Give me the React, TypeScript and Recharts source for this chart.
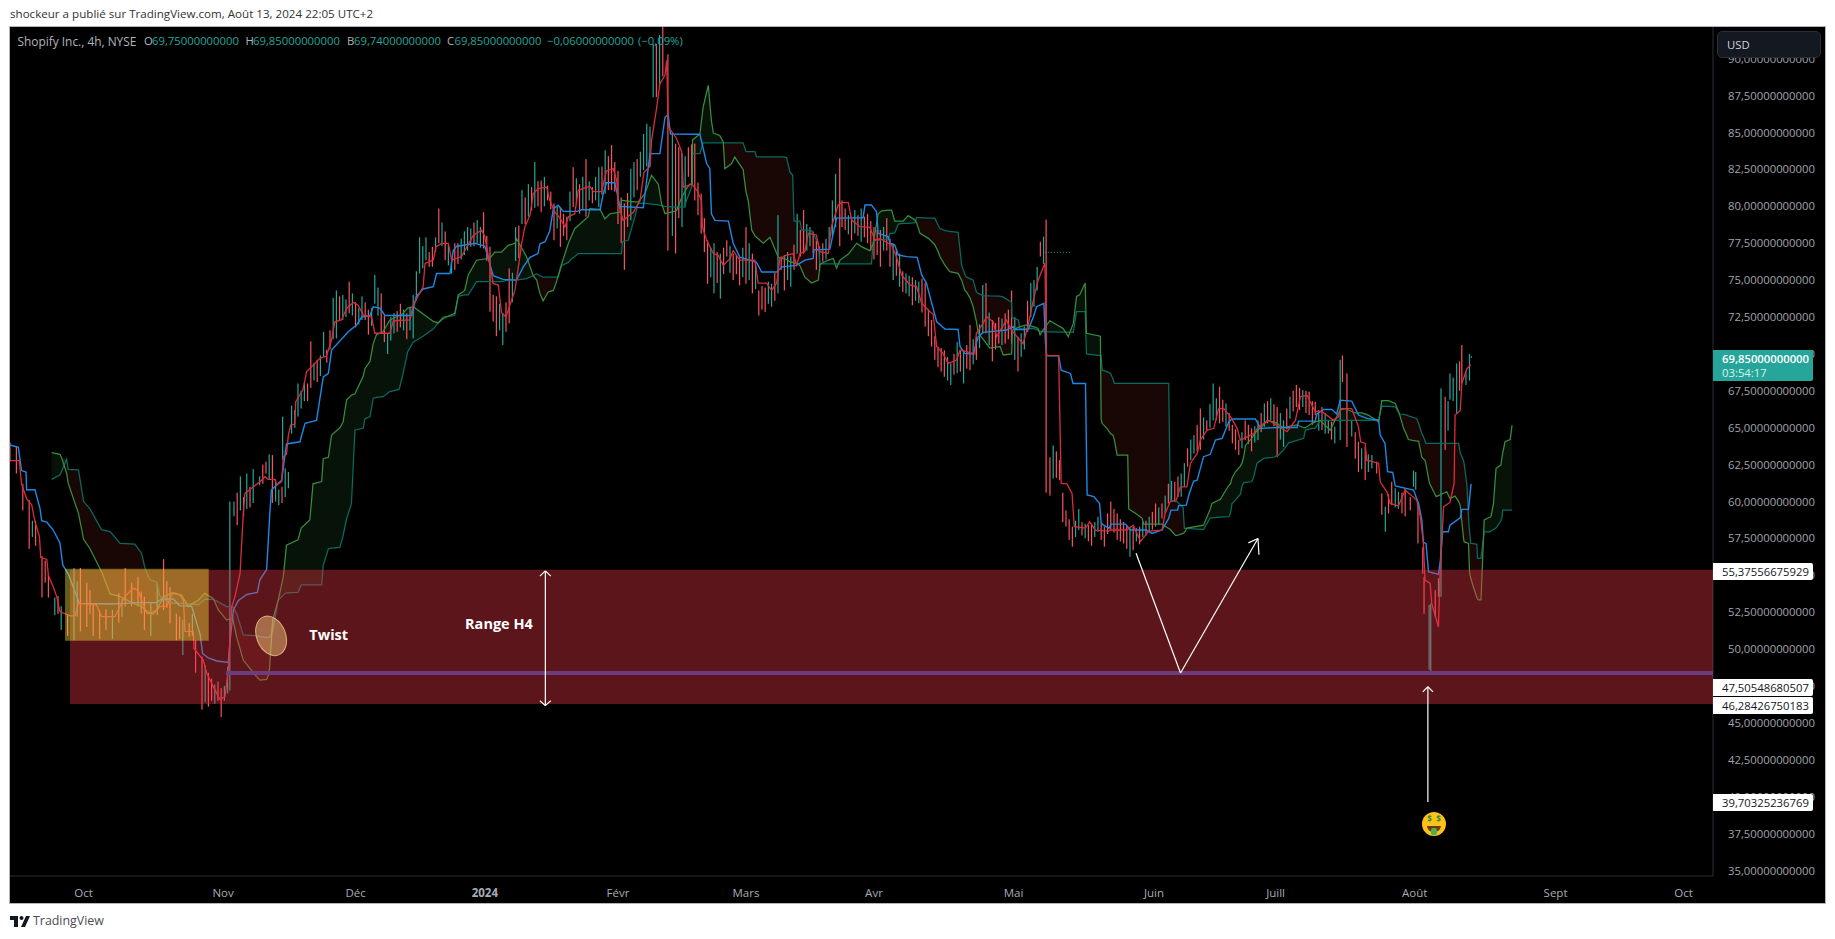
import React from "react";
import { ComposedChart, Bar, Line, Area, XAxis, YAxis, ReferenceArea, ReferenceLine, ReferenceDot } from "recharts";

// x unit: 4h bar number on the chart's time scale
const timeTicks = [23, 66.6, 108, 148.4, 190, 230, 270, 313.6, 357.5, 395.5, 439, 483, 523];
const timeLabels = ["Oct", "Nov", "Déc", "2024", "Févr", "Mars", "Avr", "Mai", "Juin", "Juill", "Août", "Sept", "Oct"];
const priceTicks = [35, 37.5, 40, 42.5, 45, 47.5, 50, 52.5, 55, 57.5, 60, 62.5, 65, 67.5, 70, 72.5, 75, 77.5, 80, 82.5, 85, 87.5, 90];

// [bar, high, low, direction]
const candlesAutumn = [
[0,64,62.7,"d"],[2,63.7,61.9,"d"],[4,61.2,59.4,"d"],[6,60.1,56.8,"d"],[7,58.7,57.6,"u"],[8,58.7,57,"d"],[10,56.3,53.5,"d"],[11,56,54.5,"d"],[12,55.1,53.5,"d"],[14,53.5,52.3,"u"],[15,53.6,52.4,"d"],[16,52.9,51.3,"u"],[18,52.3,50.9,"d"],[20,55.5,50.6,"u"],[21,54.6,52.2,"u"],[22,55.5,51.2,"d"],[24,54.5,51.5,"d"],[25,54,52.4,"d"],[26,53.1,50.9,"d"],[28,52.65,50.7,"d"],[30,52.7,51.3,"d"],[32,52.65,50.7,"u"],[34,53.8,51.8,"d"],[35,53.4,52.2,"u"],[36,55.5,52.9,"d"],[38,54.5,52.9,"d"],[40,54.9,52.9,"d"],[41,53.9,52.4,"d"],[42,53.55,51.3,"d"],[44,53.1,50.9,"u"],[46,54.45,52.3,"u"],[48,56.1,52.65,"d"],[49,54.6,52.8,"d"],[50,54.2,51.75,"d"],[52,52.4,50.6,"d"],[53,52.2,50.7,"d"],[54,52,49.6,"u"],[56,51.75,50.85,"d"],[57,52.4,50.9,"u"],[58,50.6,48.4,"d"],[60,49.5,45.9,"d"],[61,48.9,46.4,"u"],[62,48.4,46.1,"d"],[63,48,46.5,"d"],[64,47.6,46.3,"u"],[65,47.8,46.5,"d"],[66,47.35,45.4,"d"],[67,47.5,46.5,"u"],[68,48.8,47,"u"],[68.7,60,47.2,"u"],[70,60,59,"u"],[71,60.6,58.4,"d"],[72,61.7,59.4,"u"],[73,60.3,59,"d"],[74,61.9,59.5,"u"],[75,61,59.6,"d"],[76,62.2,59.9,"u"],[78,61.7,61.1,"u"],[79,62.5,61.2,"d"],[80,62.7,61.9,"d"],[81,63.2,61.5,"u"],[82,63.15,59.9,"d"],[83,61.5,60,"u"],[84,60.8,59.75,"u"],[85,61,59.9,"d"],[85.2,65.75,62.8,"u"],[86,62.25,60.3,"u"],[87,62,60.9,"u"],[88,66.5,64.6,"u"],[89,66.2,65,"u"],[90,68,65.75,"u"],[91,67.5,66.3,"u"],[92,68.1,66.8,"u"],[93,68,66.8,"d"],[94,70.85,67.7,"d"],[95,69.4,68.2,"u"],[96,69.6,68.1,"d"],[97,69.9,68.5,"u"],[98,71.5,69.8,"u"],[99,70.3,69.4,"d"],[100,71.6,70.3,"d"],[101,73.8,71,"u"],[102,74.3,71.05,"u"],[103,73.9,72.3,"d"],[104,74,72.3,"u"],[105,73.7,72.5,"u"],[106,74.9,72.75,"d"],[107,74.1,72.6,"u"],[108,73.5,71.8,"d"],[109,73.1,72,"u"],[110,73.9,72.3,"u"],[111,73.5,72.3,"d"],[112,73,71.3,"d"],[113,73.1,71.9,"u"]
];
const candlesWinter = [
[114,75.35,73.4,"u"],[115,74.5,72.6,"u"],[116,74.1,71.4,"d"],[117,72.6,70.8,"d"],[118,71.4,70,"u"],[119,72.5,70.9,"u"],[120,72.75,71.4,"u"],[121,72.9,71.5,"d"],[122,73.4,71.8,"d"],[123,73,71.6,"u"],[124,72.75,71,"d"],[125,73.2,71.6,"u"],[126,74,71.05,"u"],[127,75.6,73.6,"u"],[128,77.9,75.45,"u"],[129,77.3,75.8,"u"],[130,77.9,76.35,"u"],[131,76.9,75.9,"d"],[132,77.26,75.9,"d"],[133,77.9,76.9,"u"],[134,79.85,77.5,"d"],[135,78.9,77.3,"u"],[136,78.3,76.35,"d"],[137,77.5,76,"u"],[138,76.35,75.45,"u"],[139,77.5,75.7,"d"],[140,77.5,76.1,"d"],[141,77.8,76.4,"u"],[142,78.3,76.7,"u"],[143,78.6,77,"u"],[144,78.5,77.26,"u"],[145,78.9,77.3,"d"],[146,79.07,77.5,"u"],[147,78.6,77.2,"u"],[148,79.6,77.15,"d"],[149,78,76.3,"d"],[150,77.26,72.86,"d"],[151,74,72.2,"d"],[152,73.9,71.2,"d"],[153,73.4,71.6,"u"],[154,72.75,70.6,"u"],[155,73.5,71.5,"d"],[156,75.8,72.07,"d"],[157,75.5,73.5,"u"],[158,78.6,76.3,"u"],[159,78.7,76.5,"d"],[160,81.1,78.8,"u"],[161,80.6,78.8,"d"],[162,81.5,79.3,"u"],[163,81.3,79.7,"d"],[164,83,79.9,"u"],[165,81.7,80,"d"],[166,81.75,79.6,"d"],[167,82,80,"u"],[168,81.4,80.4,"d"],[169,81,79.8,"d"],[170,80.2,77.7,"d"],[171,80,78.5,"u"],[172,79.95,77.25,"d"],[173,79.5,78,"d"],[174,79.3,77.7,"d"],[175,81,79,"u"],[176,82.65,79.95,"d"],[177,81.9,80.2,"u"],[178,81.5,79.5,"d"],[179,82,79.8,"u"],[180,83.2,79.3,"d"],[181,81.7,80.4,"u"],[182,81.3,80.2,"d"],[183,82,80.4,"u"],[184,82.65,79.95,"u"],[185,82.7,80.8,"d"],[186,83.8,80.85,"u"],[187,83.4,81.1,"d"],[188,84.15,81.1,"d"],[189,83,81,"d"],[190,82.4,78.8,"d"],[191,80.6,77.5,"d"],[192,80.2,75.7,"d"],[193,80.9,78.6,"d"],[194,82.55,79.05,"u"],[195,83,80.6,"u"],[196,83.2,81.1,"d"],[197,83.7,82,"u"],[198,84.9,82.45,"u"],[199,85.6,82.7,"u"],[200,85.4,82.7,"u"],[201,91,87.4,"u"],[202,91,87.4,"d"],[203,91.6,88.2,"u"],[204,92.15,88.8,"d"],[205.6,90.3,77,"d"],[207,85,78,"u"],[208,84.25,76.8,"d"],[209,84,79.2,"d"],[210,83.6,78.6,"u"],[211,83.4,80,"u"],[212,84,82,"d"],[213,84.2,81.4,"d"],[214,84.25,80.4,"d"]
];
const candlesSpring = [
[215,81.6,79.4,"d"],[216,80.86,78.15,"d"],[217,79.2,76.9,"d"],[218,77.7,74.75,"d"],[219,77.2,75.2,"u"],[220,77.5,74.1,"u"],[221,76.9,74.8,"d"],[222,76.8,73.75,"u"],[223,77.2,75.4,"d"],[224,77.7,76.6,"d"],[225,77.3,75.5,"u"],[226,76.8,75,"d"],[227,76.7,75.4,"d"],[228,76.55,74.65,"d"],[229,77.2,75.2,"u"],[230,78.6,74.75,"d"],[231,77.5,75,"u"],[232,76.8,74.1,"d"],[233,76,74.4,"u"],[234,74.3,72.6,"d"],[235,74.6,73,"d"],[236,74.5,72.85,"d"],[237,74.9,73.4,"u"],[238,74.75,73.2,"u"],[239,75.5,73.6,"d"],[240,79.4,74.1,"u"],[241,76.6,75.7,"d"],[242,76.7,74.3,"d"],[243,76.9,75,"u"],[244,76.6,74.55,"u"],[245,77.4,75.7,"d"],[246,79.5,76.8,"u"],[247,78.4,76.6,"d"],[248,79.75,76.8,"d"],[249,78.8,77,"u"],[250,78.6,77.3,"u"],[251,78.3,76.8,"d"],[252,77.7,75.7,"d"],[253,77.3,75.6,"u"],[254,77.5,76.25,"d"],[255,77.8,76.4,"u"],[256,78.6,77.15,"u"],[257,80.4,78,"u"],[258,82.2,78.6,"u"],[259.3,83.25,77.3,"d"],[260,80.4,78.6,"d"],[261,79.85,78.4,"d"],[262,79.4,78.1,"u"],[263,79.2,77.7,"d"],[264,79.75,78.17,"u"],[265,79.4,78,"d"],[266,79.85,77.6,"u"],[267,79.3,77.9,"d"],[268,79.5,77.5,"d"],[269,79,77,"d"],[270,78.6,76.4,"d"],[271,78.4,76.7,"d"],[272,78.4,75.9,"d"],[273,78.6,77,"u"],[274,79.2,77,"d"],[275,77.8,75.9,"d"],[276,77.5,75,"u"],[277,77.1,75.3,"d"],[278,76.8,74.55,"u"],[279,75.6,74.2,"d"],[280,75.45,74.1,"u"],[281,75.3,73.9,"u"],[282,75.2,73.3,"d"],[283,75,73.6,"u"],[284,74.9,73.43,"u"],[285,75.1,72.8,"d"],[286,74.8,71.85,"d"],[287,73,71.2,"d"],[288,72.3,70.5,"d"],[289,71.2,69.6,"d"],[290,70.5,69.1,"d"],[291,70.4,68.8,"d"],[292,70.25,68.45,"d"],[293,69.8,68.2,"u"],[294,69.36,67.9,"u"],[295,70,68.6,"d"],[296,70.8,68.7,"u"],[297,70.2,68.8,"d"],[298,70.27,68,"u"],[299,70.6,69,"d"],[300,71.96,68.9,"d"],[301,71,69.3,"u"],[302,71.17,69.6,"d"],[303,72,70.4,"u"],[304,74.67,71.4,"u"],[305,74.8,71.4,"d"],[306,72.8,70.6,"u"],[307,72.3,69.5,"d"],[308,72.1,70.3,"d"],[309,72.5,70.7,"d"],[310,72.4,70.6,"u"],[311,72.75,70.7,"d"],[312,73,71,"d"],[313,74.3,70.7,"d"],[314,72.5,69.6,"u"],[315,71.17,68.8,"d"],[316,71.4,69.8,"u"],[317,71.85,70.3,"u"],[318,73.6,71.5,"d"],[319,74.8,72.5,"u"],[320,75,73.2,"u"],[321,75.9,74.3,"u"],[322,77.6,76.6,"d"],[323,77.95,76.1,"u"],[323.8,79.1,60.6,"d"]
];
const candlesSummer = [
[325,63,60.4,"d"],[326,63.8,61.56,"u"],[327,63.4,61.6,"d"],[328,62.8,61.45,"d"],[329,60.6,58.6,"d"],[330,59.4,58.3,"d"],[331,58.8,57.4,"d"],[332,58.3,56.94,"d"],[333,58.7,57.6,"u"],[334,59.5,58.07,"u"],[335,58.6,57.7,"d"],[336,58.5,57.5,"u"],[337,58.4,57.3,"d"],[338,58.5,57,"d"],[339,58.6,57.6,"u"],[340,58.97,57.95,"u"],[341,58.5,57.4,"d"],[342,58.3,56.94,"d"],[343,59.2,57.8,"d"],[344,60,58.07,"d"],[345,59.5,57.9,"d"],[346,59.2,57.4,"d"],[347,58.8,57.3,"d"],[348,58.63,57.16,"d"],[349,58.4,56.8,"d"],[350,58.2,56.26,"u"],[351,58.3,56.7,"d"],[352,58.2,57.3,"u"],[353,58.3,57.1,"d"],[354,58.63,57.6,"u"],[355,58.7,57.7,"d"],[356,58.97,57.95,"u"],[357,59.3,58.1,"d"],[358,59.87,58.3,"d"],[359,59.6,58.4,"u"],[360,59.87,58.86,"d"],[361,60.4,59.2,"u"],[362,61.2,59.87,"d"],[363,61.4,60,"u"],[364,61.34,60.1,"d"],[365,61.7,60.3,"d"],[366,61.9,60.33,"u"],[367,62.6,61,"u"],[368,63.6,62.36,"d"],[369,64.2,62.8,"u"],[370,64.5,63.26,"u"],[371,65.2,63.4,"d"],[372,66.3,63.5,"d"],[373,65.7,64.2,"u"],[374,65.5,64.84,"d"],[375,66.6,65,"u"],[376,68,65.5,"u"],[377,67,65.5,"u"],[378,67.78,65.3,"d"],[379,66.9,65.4,"d"],[380,66.65,65.07,"u"],[381,66,64.8,"d"],[382,65.2,63.94,"d"],[383,64.9,63.5,"d"],[384,64.16,63.15,"d"],[385,64.7,63.6,"u"],[386,65.5,64.16,"d"],[387,65.2,63.9,"d"],[388,64.96,63.4,"d"],[389,65.1,64,"u"],[390,65.5,64.16,"u"],[391,66,64.7,"d"],[392,66.65,65.07,"u"],[393,66.8,65.3,"d"],[394,67,65.5,"u"],[395,66.6,65.1,"d"],[396,66.4,63,"d"],[397,66,64.2,"u"],[398,65.5,63.7,"u"],[399,66.3,64.9,"d"],[400,67.1,65.6,"u"],[401,67.5,66.1,"d"],[402,67.9,66.4,"d"],[403,67.7,66.2,"d"],[404,67.55,66.4,"u"],[405,67.5,66,"d"],[406,67.44,65.86,"d"],[407,66.8,65.2,"d"],[407.9,66.76,65.86,"d"],[409,66.2,64.8,"u"],[410,66.4,64.84,"d"],[411,66,64.6,"u"],[412,65.5,64.6,"u"],[413,65.4,64.2,"d"],[414,65.07,63.94,"u"],[415.7,69.6,64.16,"u"],[416.4,69.9,68.1,"d"],[417.8,68.68,63.7,"d"],[419.3,65.5,64.4,"u"],[420.4,64.7,62.9,"d"],[421.4,64.05,62,"d"],[422.4,63.6,62.2,"u"],[423.5,63.7,61.45,"d"],[424.5,63.2,62,"u"],[425.6,63.15,62.25,"u"],[427.1,62.7,61.9,"d"],[428.7,60.55,59.1,"d"],[429.8,59.65,57.95,"u"],[430.8,60.5,59.2,"d"],[431.8,61.34,59.76,"d"],[432.9,60.9,59.6,"u"],[433.9,60.66,59.5,"u"],[435,60.6,59.2,"d"],[436,60.9,59,"d"],[437.6,60.3,59.4,"d"],[438.6,62.1,61,"u"],[439.3,62,60.8,"u"],[440,59.87,57.16,"d"],[441.5,56.9,55.1,"d"],[441.9,54.9,52.4,"d"],[443.5,53,48.6,"u"],[444,53.1,48.36,"u"],[445.4,54,52.2,"d"],[446.4,54.8,53.55,"u"],[447.2,67.67,53.55,"u"],[448.5,67.1,63.5,"d"],[449.4,66.8,64.8,"u"],[450,68.68,66.9,"u"],[451,68.4,66.8,"u"],[452.1,69.36,66,"u"],[453,69.5,67.5,"d"],[453.7,70.6,68,"d"],[455,68.8,67.9,"u"],[456.1,70,68.2,"u"],[456.7,69.85,69.74,"u"]
];

// Ichimoku: [bar, value]
const kijunAutumn = [[0,63.83],[2.6,63.67],[3.6,62.1],[5,62],[5.2,60.8],[7.8,60.8],[9.4,59.5],[9.9,58.7],[11.5,58.6],[13.5,58.07],[15.6,57.2],[16.5,55.7],[18.2,55.1],[19.8,54.2],[21.7,53.1],[31.3,53.06],[36,53.1],[39.6,53.15],[45.8,53.15],[47.4,53.4],[51,53.4],[53,52.95],[56.8,52.9],[59.4,51],[60.2,49.7],[62,49.4],[64.6,49.2],[68.2,49.1],[68.8,50.6],[69.8,52.65],[71.4,53.3],[74,53.7],[77.3,53.85],[78.1,54.7],[80.2,55.4],[81.2,59.2],[81.7,60.78],[84.9,61.45],[86.4,63.9],[90.6,64.05],[92.2,65.3],[95.8,65.5],[96.8,66.9],[97.9,68.45],[99.5,68.68],[100.5,70.26],[105.7,71.5],[108.3,71.96],[109.9,72.5],[112.5,72.6],[113.5,73.2],[115.6,73.1],[117.2,72.6],[125.5,72.6],[127,73.9],[129.1,74.4],[132.3,74.55],[133.3,75.45],[137.5,75.45],[138.5,77],[139.6,77.3],[142.7,77.4],[145.3,77.5],[148.4,77.3],[151,75.3],[154.1,75.05]];
const kijunWinter = [[158.3,75],[160.4,75.9],[162.5,76.55],[165,76.8],[165.6,77.45],[167.2,77.6],[168.7,78.35],[169.8,79.84],[171.3,80.07],[172.9,79.66],[177.1,79.66],[178.6,79.77],[184.4,79.77],[185.4,80.86],[186.4,81.6],[189,81.6],[190.6,80],[197.9,79.9],[200,83.57],[203.1,83.57],[204.7,86.05],[205.7,86.2],[206.4,84.9],[215.6,84.88],[217.7,82.9],[218.7,82.55],[219.2,79.5],[220.3,79.05],[224.5,79],[226,77.5],[228.1,76.55],[233.3,76.2],[234.9,75.55],[239.6,75.55],[241.3,75.9],[245.8,76],[248.4,76.36],[251,76.47],[251.2,77.05],[256.2,77.1],[258.3,79.2],[266.6,79.23],[267.2,80.09],[269.2,80.09],[270.8,79.64],[271.3,78.17],[274.5,77.94],[275,77.5],[276.5,77.38],[277.6,76.7],[280.2,76.59],[283.5,76.54],[284.9,75.35],[286.4,74.78],[287.5,73.88],[289.6,72.18],[292.2,71.69],[296.3,71.66],[296.9,70.49],[298.4,70.04],[301,69.99],[302.6,71.17],[304.1,71.46],[311.4,71.62],[313.5,71.85],[314,71.66],[318.2,71.66],[319.8,72.5],[320.8,73.2],[323.1,73.43],[323.6,70.7]];
const kijunSummer = [[324,69.88],[327.7,69.88],[328.5,68.9],[331.4,68.68],[332.2,68],[336.1,68],[336.6,60.44],[338.7,60.33],[340.5,59.87],[341,58.52],[343.4,58.18],[344.1,58.47],[348.6,58.47],[350.1,58.07],[355,58.07],[356.9,57.84],[360,58.07],[362.1,58.86],[362.8,59.42],[364.9,59.42],[365.2,59.72],[367.6,59.76],[368.4,60.44],[369.9,61.39],[371,61.45],[373,63.04],[375.1,63.2],[376.7,64.16],[378.8,64.28],[380.9,65.41],[381.9,65.59],[389.2,65.59],[390.8,64.96],[396.5,65.02],[402.2,65.02],[402.7,65.45],[407.9,65.45],[408.4,65.93],[410.5,66.24],[413.1,66.24],[414.6,65.93],[415.7,66.87],[419.3,66.8],[421.4,65.86],[424,65.63],[427.7,65.52],[428.2,64.5],[429.7,63.94],[430.5,62.02],[432.1,61.97],[432.9,61.05],[438.6,60.78],[440.2,59.87],[441.2,58.75],[441.7,57.23],[442.5,57.16],[443.3,55.24],[446.4,55.06],[447,56],[447.7,57.95],[449.5,57.95],[450,58.4],[453.2,58.9],[453.7,59.47],[455.8,59.47],[456.6,61.2]];
const tenkanAutumn = [[0,62.77],[2.9,62.77],[3.6,61.2],[5.2,60.2],[6.8,59.77],[7.8,58.64],[9.2,57.62],[9.6,56.22],[11.5,56.08],[12,55],[13.5,54.23],[14.6,53.56],[15.6,52.54],[18.8,52.25],[20.3,52.25],[21.4,53.1],[27,53],[28.6,52.2],[32.8,52.2],[34.4,52.9],[35.9,53.56],[38.5,54.12],[40,54],[42.7,52.43],[44.8,52.38],[46.9,52.9],[49,52.9],[50.7,53.78],[53.1,53.67],[54.2,53.3],[54.7,51.2],[57.3,51.18],[57.5,50.05],[60.4,49.26],[61.5,48.36],[63.5,47.46],[65.6,46.6],[67.2,46.78],[68.2,48.6],[69.3,52.88],[70.3,53.56],[71.9,55.14],[72.9,59.2],[73.4,60.55],[75.5,60.9],[78.1,61.34],[79.7,61.68],[80.7,61.5],[82.8,61.5],[83.3,61.1],[84.9,61.34],[85.4,63.03],[86.4,63.2],[87,64.5],[87.7,65.18],[89,65.25],[89.3,66.76],[91.6,67.6],[92.7,68.8],[95.3,69.36],[96.85,69.7],[98.9,69.86],[100.5,70.94],[101.5,72.18],[103.6,72.3],[105.2,73.1],[107.3,73.49],[108.8,73.3],[110.4,72.63],[113,72.52],[114,71.4],[118.7,71.4],[119.8,72.25],[125,72.3],[126,73.31],[129.1,74.55],[129.7,76.13],[132.3,76.36],[133.1,77.26],[134.9,77.49],[137,77.49],[138,76.36],[141.1,76.6],[144.8,78.05],[147.4,78.39],[148.4,77.94],[151,74.78],[152.6,74.67],[153.6,72.8],[155,72.5]];
const tenkanWinter = [[156.2,73.3],[157.8,74.3],[159.4,76.7],[159.9,77.5],[160.9,78.6],[162.5,79.4],[163.5,80.86],[165.1,81.2],[167.7,81.3],[168.7,80.4],[170.3,79.6],[171.9,79.2],[173.4,78.6],[174.5,79.3],[176.5,79.5],[177.6,81.1],[181.2,81.35],[182.3,81],[184.9,81],[186.4,82.4],[188.5,82.55],[189.6,81.76],[190.1,80.2],[191.6,79.05],[194.8,79.6],[196.9,80.4],[198.1,82.3],[200,82.7],[200.5,84.47],[202.1,86.7],[203.1,88.3],[204.7,88.9],[205.2,89.9],[205.7,85.4],[208.3,84.6],[209.9,83.7],[210.4,81.3],[213,81.5],[214.6,81.1],[216.1,80.4],[216.4,78.6],[217.7,77.7],[219.8,76.8],[221.3,76.7],[222.9,76],[225,76.45],[226,77],[228.1,76.35],[232.8,76.35],[233.8,74.8],[236.4,74.8],[238,74.3],[239.6,74.8],[240.6,76.45],[242.7,76.7],[244.8,76.8],[245.8,76],[246.9,76.8],[248.4,76.93],[249.5,78.17],[252,78.06],[253.1,76.93],[255.7,76.8],[256.7,78.6],[258.8,80.09],[259.9,80.25],[262,80.25],[263,79.07],[265.6,78.62],[268.7,78.58],[270.3,77.72],[272,77.8],[274.5,77.49],[275.5,77.38],[277,76.6],[278.6,75.35],[281.2,74.67],[283.3,74.56],[284.9,73.43],[287.5,72.86],[288.5,72.7],[289.6,70.49],[291.6,70.04],[293.2,69.36],[295.8,69.59],[296.9,70.27],[301.5,70],[302,71.4],[304.1,72.07],[305.2,72.52],[307.3,72.18],[308.3,71.17],[311.4,72.3],[313,71.6],[316.6,70.7],[318.2,71.96],[319.8,73.65],[321.3,75],[323.4,76.14]];
const tenkanSummer = [[323.9,69.9],[327.7,69.88],[328.5,61.23],[330.3,61.2],[331.9,60.55],[332.6,58.3],[336.1,58.2],[337.4,58.63],[339.2,58.07],[343.4,58],[344,58.07],[349,58.07],[351,58.4],[353.3,57.3],[355.9,58],[360,58.07],[361,59.2],[362.6,60],[364.5,60.1],[365.75,61],[367.8,61],[368.9,62.6],[371,63.26],[372,64.16],[374.1,64.84],[376.2,64.96],[377.7,66.3],[379.3,66.3],[381.4,65.75],[383.5,64.96],[384.5,64.16],[388.7,64.6],[390.2,65.07],[393.4,65.5],[396.5,65.07],[399.1,64.73],[401.7,65.5],[403.25,67.1],[405.3,67.2],[407.9,66.1],[410,66.1],[413.6,65.5],[415.2,65.75],[415.8,66.3],[419.3,66.3],[421.4,65.07],[422.1,64.05],[423.5,63.94],[424,62.8],[427.7,62.6],[428.2,61.34],[430.3,60.66],[431.3,59.87],[433.9,59.7],[436,60.78],[439.6,60.1],[440.7,59],[441.7,57.16],[442.2,54.68],[443.8,54.45],[444.3,53.1],[446.4,51.5],[446.9,55.1],[448,59.65],[450,59.94],[451.3,61.23],[451.6,65.86],[453.2,66.15],[453.7,68],[455.3,69],[456.5,69.25]];

// Cloud: [bar, leading span A, leading span B]
const spanAutumn = [[13,63.31,61.5],[15.6,63.2,61.8],[16.2,62.93,62.09],[17.7,61.9,62.86],[18.2,61.23,62.18],[21.4,59.2,62.14],[23,57.44,60],[25,56.8,59.5],[28.6,55.25,58.1],[31.3,53.74,57.96],[34.4,53.56,57.17],[39,53.06,57.12],[41.1,52.9,56.5],[42.2,52.65,55.47],[43.8,52.43,54.68],[45.8,52.65,54.57],[46.9,53.1,53.56],[48.4,53.6,53.33],[51,53.83,53.1],[53.6,53.67,53.1],[55.7,52.88,53.06],[58.9,53.33,53],[60.9,53.78,53.37],[63.5,53.44,53.37],[65.1,52.65,53.2],[67.7,51.97,52.88],[69.6,52.1,52.88],[70.8,50.85,52.43],[72.9,49.26,50.96],[76.6,48.25,50.91],[78.1,47.9,50.85],[80.2,47.95,50.8],[81,48.36,50.8],[82.1,52,51.2],[83.8,53.3,53.3],[85.4,54.9,53.66],[86.4,57.05,53.82],[90,57.4,53.85],[91,58.2,54.35],[93.7,58.75,54.35],[94.7,61.2,54.35],[97.4,61.35,54.35],[97.9,62.9,55.7],[99.5,63,56.8],[100.5,64.5,56.85],[103.1,65,56.9],[104.1,65.4,57.7],[105.2,66.9,58.85],[106.7,67.2,59.85],[107.8,67.3,64.85],[110.4,68.5,64.96],[110.9,69,65.6],[112.5,69.5,65.75],[113.5,70.7,67],[114.5,71.3,67.05],[116.6,71.5,67.1],[118.7,72.3,67.45],[121.6,72.6,67.6],[122.6,72.7,68.45],[124.3,73.1,70.15],[126,73.2,70.8],[129.1,72.7,71.2],[132.3,72.2,71.7],[133.8,72.1,72.1],[135.4,72.4,72.5],[139,72.75,72.6],[140.1,74,73.9],[142.1,74.3,74],[143.2,75.35,74],[145.8,76.35,74.9],[150,76.5,74.9],[151.5,76.9,74.9],[153.6,76.9,74.9],[155.7,77.36,75],[157.8,77.5,75],[158.3,77.8,75]];
const spanWinter = [[161.4,76.6,75.1],[163.5,75.3,75.3],[164.6,75,75.44],[165.6,74.1,75.3],[166.6,73.6,75.2],[168.2,74.2,75.2],[169.8,74.3,75.2],[170.8,74.9,75.2],[171.3,75.3,75.2],[172.4,76.1,76],[174.5,77.5,76.2],[175.5,78,76.45],[176.5,78.5,76.6],[177.6,78.7,76.8],[180.7,79.3,76.8],[181.2,79.85,76.8],[184.4,79.8,76.8],[185.9,79.15,76.8],[187.5,79.5,76.8],[190.6,79.6,76.8],[191.1,80.4,76.8],[191.4,80.4,77.6],[193.2,80.35,77.7],[195.3,80.3,79.3],[196.3,80.3,80.2],[198.4,80.86,80.2],[200.5,82.1,80.15],[202.6,81.5,80.1],[203.6,80.2,80.05],[204.7,79.5,80],[208.3,79.7,79.95],[209.9,80.6,79.95],[210.9,81,79.95],[211.4,81.2,80.4],[212.5,81.5,81],[213.25,81.5,81.5],[213.3,84.5,83.57],[215.6,84.9,83.57],[216.6,86.7,84.3],[218.2,88.2,84.3],[219.2,85.8,84.3],[219.8,84.97,84.3],[221.8,84.8,84.3],[222.9,84.36,84.3],[223.4,82.55,84.3],[225.5,82.9,84.3],[226.5,83.34,84.3],[228.6,82.66,84.3],[229.1,82.5,84.3],[230,81,83.7],[230.7,80.4,83.7],[231.8,78.4,83.7],[232.8,78,83.7],[233.3,77.9,83.35],[235.4,77.5,83.35],[237.5,77.9,83.35],[240.1,76.55,83.35],[241.6,76.45,83.35],[242.7,76.4,83.3],[243.7,76.25,82.35],[244.6,76.2,82.1],[245,76.15,79],[246.3,76.1,79],[246.9,75.95,79],[247.4,75.7,78.4],[248.4,75.2,78.4],[250.5,74.8,78.35],[252.6,75,77.5],[253.1,76,76.1],[253.3,76.1,76.1],[255.7,76.36,76.1],[257.3,76.47,76.1],[258.3,75.8,76.1],[259.4,76.36,76.1],[262,76.77,76.1],[264.6,77.5,76.1],[266.1,77.27,76.1],[268.7,77,76.1],[269.2,77.2,76.1],[269.8,77.5,77.7],[271.3,79.5,77.7],[272.4,79.7,77.75],[274.5,79.75,77.8],[275,79.75,78.17],[275.5,79.75,78.17],[276.5,79,78.2],[277.6,79,78.8],[279.1,79,78.85],[280.7,79.37,78.85],[282.8,79.07,78.9],[283.3,78.9,79.23],[284.4,78.17,79.23],[287,77.83,79.2],[289,77.4,79.2],[290.1,76.9,78.7],[290.6,76.6,78.5],[292.2,76,78.35],[293.7,75.57,78.3],[296.3,75.46,78.24],[297.4,75,76],[298.4,74.3,75.4],[298.9,74.2,75.2],[300,73.8,75.1],[301,73.2,75],[302,72.2,74.2],[302.6,71.4,74.1],[304.1,71,73.95],[306.2,70.4,73.93],[309.4,70.5,73.92],[310.4,69.93,73.85],[313,70,73.5],[313.1,70.5,72.5],[313.2,71.6,72.45],[315.1,71.8,72.3],[315.6,71.85,71.7],[317.7,71.96,71.7],[319.8,71.85,71.73],[321.3,71.73,71.6],[321.9,71.3,71.55],[323.4,71.8,71.5],[325,72.25,71.5],[329.1,71.73,71.48],[330.7,71.17,71.47],[332.3,72.07,71.46],[333.3,73.9,72.86],[334.3,74,72.86],[336,74.8,72.86]];
const spanSummer = [[336.4,71.4,70],[340.75,71.2,69.88],[341,65.6,69.88],[341.3,65.3,68.9],[342.8,64.96,68.8],[343.9,64.6,68.68],[344.7,64.5,68.3],[345.1,64.2,68],[346,63.15,68],[349.3,63.15,68],[349.6,59.5,68],[351.7,59.2,68],[353.8,58.86,68],[354.3,58.47,68],[360,58.47,68],[362.1,58.18,68],[362.6,58.1,60.1],[364.2,57.7,60],[364.7,57.7,60],[366.6,57.84,59.6],[367,57.9,58.18],[367.8,58.2,58.18],[373,58.4,58.1],[375.1,59.5,58.9],[375.6,59.87,58.9],[378.25,60.15,58.95],[380.9,61.1,58.97],[381.4,61.2,59.2],[381.9,61.6,59.87],[382.9,62,60.1],[384.5,62.4,60.5],[385,62.6,61],[385.5,63,61.27],[386.1,63.8,61.3],[388.1,64.3,61.34],[388.7,64.5,61.7],[389.7,64.8,62.6],[391.8,65.2,62.92],[392.8,65.5,62.95],[394.9,65.4,63],[396,65.3,63.1],[396.5,65.2,63.15],[398,65,63.5],[399.6,65.1,63.98],[402.2,65.2,64.15],[404.3,65,64.28],[404.8,65,64.84],[406.9,65.3,64.95],[407.9,65.4,64.96],[409.4,65.5,65.5],[412.6,64.84,65.5],[414.6,65.75,65.5],[415.7,66.2,65.5],[417.2,66.3,65.5],[420.4,66,65.5],[422.5,66,65.5],[424.5,65.86,65.5],[427.7,65.4,65.5],[428.7,66.83,66.47],[430.8,66.83,66.45],[432.9,66.65,66.42],[434.2,65.95,65.93],[435.5,64.96,65.9],[436.5,64.5,65.86],[437,64.2,65.8],[439.6,64.1,65.63],[440.2,64.1,65.3],[441.2,63,64.6],[441.7,62.9,64.4],[442.2,62.8,64.1],[442.5,62.5,63.94],[443.6,61.23,63.94],[445.7,60.33,63.94],[449,60.66,63.94],[450,60.2,63.94],[451.6,60.37,63.94],[452.7,60,63.94],[453.2,59.76,63.3],[454.2,57.6,62.8],[454.4,57.28,62.6],[455.3,57.2,61.1],[455.8,57.16,58.9],[456.1,55.24,58],[456.5,54.8,57.16],[457.3,54.23,57.15],[458.4,53.5,57.1],[458.6,53.4,56.15],[458.9,53.33,56.15],[459.7,53.33,56.15],[460.7,58.75,57.95],[462.5,58.95,57.95],[462.8,58.97,58],[463.6,59.87,58.1],[464.4,62.25,58.2],[465.9,62.47,58.7],[466.2,62.9,58.86],[466.5,63.3,59.42],[467.2,64.05,59.42],[468.8,64.2,59.42],[469.4,65.18,59.42]];

// Drawings, in price / bar coordinates of the chart
const rangeZone = { x1: 18.75, x2: 532.2, y1: 46.28426750183, y2: 55.37556675929 };
const boxZone = { x1: 17.2, x2: 62.1, y1: 50.57, y2: 55.45 };
const supportLevel = 48.38;
const supportStart = 67.5;
const arrows = [
  [[167.3, 46.17], [167.3, 55.3]],
  [[165.6, 54.95], [167.3, 55.3]],
  [[169, 54.95], [167.3, 55.3]],
  [[165.6, 46.5], [167.3, 46.17]],
  [[169, 46.5], [167.3, 46.17]],
  [[351.9, 56.5], [365.8, 48.38]],
  [[365.8, 48.38], [390, 57.5]],
  [[387, 57.2], [390, 57.5]],
  [[390.3, 56.4], [390, 57.5]],
  [[443.1, 39.64], [443.1, 47.45]],
  [[441.5, 47.1], [443.1, 47.45]],
  [[444.7, 47.1], [443.1, 47.45]],
];
const legendItems = [
  [17.5, "Shopify Inc., 4h, NYSE", "#b2b5be", 11.9], [144, "O", "#b2b5be", 11.3], [152, "69,75000000000", "#26a69a", 11.3],
  [245.5, "H", "#b2b5be", 11.3], [253, "69,85000000000", "#26a69a", 11.3], [347, "B", "#b2b5be", 11.3], [354, "69,74000000000", "#26a69a", 11.3],
  [447, "C", "#b2b5be", 11.3], [454.5, "69,85000000000", "#26a69a", 11.3], [547, "−0,06000000000", "#26a69a", 11.3], [638, "(−0,09%)", "#26a69a", 11.3],
];
const priceTags = [
  [563, "55,37556675929"], [679, "47,50548680507"], [697, "46,28426750183"], [794, "39,70325236769"],
];

const UI = "'Open Sans', 'Noto Sans', sans-serif";
const fmtPrice = (v: number) => v.toFixed(11).replace(".", ",");
const toCandle = (c: any[]) => ({ i: c[0], high: c[1], low: c[2], dir: c[3] });
const toPoint = (p: number[]) => ({ i: p[0], v: p[1] });
const toSpan = (p: number[]) => ({ i: p[0], a: p[1], b: p[2] });

const candleRows = [...candlesAutumn, ...candlesWinter, ...candlesSpring, ...candlesSummer].map(toCandle);
const kijunRows = [...kijunAutumn, ...kijunWinter, ...kijunSummer].map(toPoint);
const tenkanRows = [...tenkanAutumn, ...tenkanWinter, ...tenkanSummer].map(toPoint);
const spanRows = [...spanAutumn, ...spanWinter, ...spanSummer].map(toSpan);

const CandleShape = (p: any) => {
  const cx = p.x + p.width / 2;
  return <rect x={cx - 0.6} y={p.y} width={1.2} height={Math.max(p.height, 1)} fill={p.payload.dir === "u" ? "#26a69a" : "#f7525f"} />;
};
const TimeTick = (p: any) => {
  const k = timeTicks.indexOf(p.payload.value);
  return (
    <text x={p.x} y={p.y + 8} textAnchor="middle" dominantBaseline="central" fontFamily={UI} fontSize={11.5}
      fontWeight={timeLabels[k] === "2024" ? 700 : 400} fill="#a8abb4">{timeLabels[k]}</text>
  );
};
const Note = (label: string, size: number) => (p: any) => (
  <text x={p.cx} y={p.cy} textAnchor="middle" dominantBaseline="central" fontFamily={UI} fontWeight={700} fontSize={size} fill="#fff">{label}</text>
);
const TwistMark = (p: any) => (
  <ellipse cx={p.cx} cy={p.cy} rx={14.5} ry={20.5} transform={`rotate(-22 ${p.cx} ${p.cy})`} fill="#ffd580" fillOpacity={0.45} stroke="#ffe0a0" strokeOpacity={0.7} />
);
const MoneyFace = (p: any) => (
  <g>
    <circle cx={p.cx} cy={p.cy} r={12} fill="#fcc21b" />
    <text x={p.cx - 4.5} y={p.cy - 2} textAnchor="middle" fontFamily={UI} fontWeight={700} fontSize={8} fill="#2e8b3d">$</text>
    <text x={p.cx + 4.5} y={p.cy - 2} textAnchor="middle" fontFamily={UI} fontWeight={700} fontSize={8} fill="#2e8b3d">$</text>
    <path d={`M${p.cx - 7} ${p.cy + 2} H${p.cx + 7} Q${p.cx + 6} ${p.cy + 8} ${p.cx} ${p.cy + 8} Q${p.cx - 6} ${p.cy + 8} ${p.cx - 7} ${p.cy + 2}Z`} fill="#6b3a16" />
    <rect x={p.cx - 3} y={p.cy + 4} width={6} height={7} rx={2} fill="#4caf50" />
  </g>
);

export default function App() {
  return (
    <div style={{ position: "fixed", left: 0, top: 0, width: 1835, height: 939, background: "#fff", overflow: "hidden", fontFamily: UI }}>
      <div style={{ position: "absolute", left: 10, top: 6, fontSize: 11.6, color: "#333", whiteSpace: "nowrap" }}>
        shockeur a publié sur TradingView.com, Août 13, 2024 22:05 UTC+2
      </div>
      <div style={{ position: "absolute", left: 9, top: 26, width: 1815, height: 876, background: "#000", border: "1px solid #b2b5be" }} />
      <div style={{ position: "absolute", left: 10, top: 27 }}>
        <ComposedChart width={1815} height={876} data={candleRows} margin={{ top: 0, right: 0, bottom: 0, left: 0 }} barSize={2}>
          <XAxis dataKey="i" type="number" domain={[0, 532.2]} allowDataOverflow ticks={timeTicks} interval={0} height={27}
            stroke="#2a2e39" tickLine={false} tick={<TimeTick />} />
          <YAxis yAxisId="p" orientation="right" type="number" domain={[34.63, 92.15]} allowDataOverflow ticks={priceTicks} interval={0} width={112}
            stroke="#2a2e39" tickLine={false} tickMargin={9} tickFormatter={fmtPrice}
            tick={{ fill: "#a0a3ac", fontSize: 11.3, fontFamily: UI, textAnchor: "start" }} />
          <Area yAxisId="p" data={spanRows} dataKey={(r: any) => [r.b, Math.max(r.a, r.b)]} stroke="none" fill="#43a047" fillOpacity={0.11} dot={false} activeDot={false} isAnimationActive={false} />
          <Area yAxisId="p" data={spanRows} dataKey={(r: any) => [r.a, Math.max(r.a, r.b)]} stroke="none" fill="#f44336" fillOpacity={0.1} dot={false} activeDot={false} isAnimationActive={false} />
          <Bar yAxisId="p" dataKey={(r: any) => [r.low, r.high]} shape={<CandleShape />} isAnimationActive={false} />
          <Line yAxisId="p" data={spanRows} dataKey="b" stroke="#096a61" strokeWidth={1.25} dot={false} activeDot={false} isAnimationActive={false} />
          <Line yAxisId="p" data={spanRows} dataKey="a" stroke="#388e3c" strokeWidth={1.25} dot={false} activeDot={false} isAnimationActive={false} />
          <Line yAxisId="p" data={kijunRows} dataKey="v" stroke="#1e88e5" strokeWidth={1.4} dot={false} activeDot={false} isAnimationActive={false} />
          <Line yAxisId="p" data={tenkanRows} dataKey="v" stroke="#d92d3c" strokeWidth={1.3} dot={false} activeDot={false} isAnimationActive={false} />
          <ReferenceArea yAxisId="p" {...rangeZone} fill="#f23645" fillOpacity={0.38} stroke="none" zIndex={700} />
          <ReferenceArea yAxisId="p" {...boxZone} fill="#ffeb3b" fillOpacity={0.4} stroke="none" zIndex={720} />
          <ReferenceLine yAxisId="p" segment={[{ x: supportStart, y: supportLevel }, { x: 532.2, y: supportLevel }]} stroke="#6d3b80" strokeWidth={4} zIndex={730} />
          <ReferenceLine yAxisId="p" segment={[{ x: 323.4, y: 76.88 }, { x: 331.9, y: 76.88 }]} stroke="#43a047" strokeDasharray="1 2" />
          {arrows.map((a, k) => (
            <ReferenceLine key={k} yAxisId="p" segment={[{ x: a[0][0], y: a[0][1] }, { x: a[1][0], y: a[1][1] }]} stroke="#fff" strokeWidth={1.2} zIndex={740} />
          ))}
          <ReferenceDot yAxisId="p" x={81.6} y={50.9} r={1} shape={<TwistMark />} zIndex={750} />
          <ReferenceDot yAxisId="p" x={99.6} y={51} r={1} shape={Note("Twist", 14.5)} zIndex={750} />
          <ReferenceDot yAxisId="p" x={152.8} y={51.75} r={1} shape={Note("Range H4", 14.5)} zIndex={750} />
          <ReferenceDot yAxisId="p" x={445} y={38.15} r={1} shape={<MoneyFace />} zIndex={750} />
        </ComposedChart>
      </div>
      {legendItems.map((l: any, k) => (
        <span key={k} style={{ position: "absolute", left: l[0], top: 33, fontSize: l[3], lineHeight: "16px", color: l[2], whiteSpace: "nowrap" }}>{l[1]}</span>
      ))}
      <div style={{ position: "absolute", left: 1717, top: 31, width: 93, height: 25, background: "#141821", border: "1px solid #2a2e39", borderRadius: 5, color: "#d1d4dc", fontSize: 11.3, lineHeight: "25px", paddingLeft: 9, boxSizing: "content-box" }}>USD</div>
      <div style={{ position: "absolute", left: 1713, top: 350, width: 100, height: 31, background: "#26a69a", borderRadius: "0 2px 2px 0", fontSize: 11.3, lineHeight: "14px", paddingTop: 1.5, boxSizing: "border-box" }}>
        <div style={{ marginLeft: 9, color: "#fff", fontWeight: 600 }}>69,85000000000</div>
        <div style={{ marginLeft: 9, color: "#d6f1ee" }}>03:54:17</div>
      </div>
      {priceTags.map((t: any, k) => (
        <div key={k} style={{ position: "absolute", left: 1713, top: t[0], width: 100, height: 17, background: "#fff", color: "#131722", fontSize: 11.3, lineHeight: "17px", paddingLeft: 9, boxSizing: "border-box", borderRadius: "0 2px 2px 0" }}>{t[1]}</div>
      ))}
      <svg style={{ position: "absolute", left: 10, top: 916 }} width={20} height={11} viewBox="0 0 20 11">
        <path d="M0 0H8V11H4V4H0Z M16 0H20L15 11H11Z" fill="#131722" />
        <circle cx={11.5} cy={2} r={2} fill="#131722" />
      </svg>
      <div style={{ position: "absolute", left: 33, top: 912, fontSize: 12.4, color: "#4a4d55", whiteSpace: "nowrap" }}>TradingView</div>
    </div>
  );
}
